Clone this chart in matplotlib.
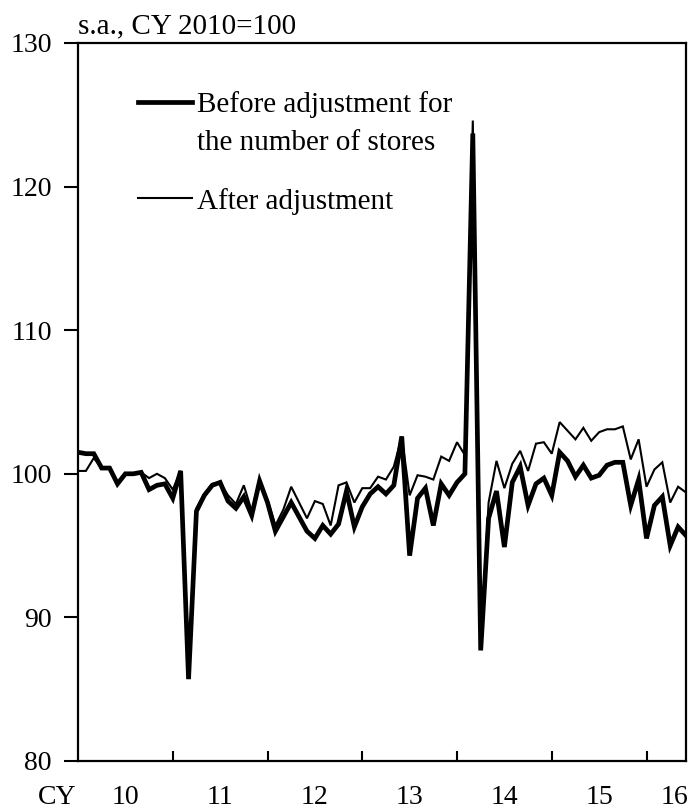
import matplotlib
matplotlib.use("Agg")
import matplotlib.pyplot as plt
import numpy as np

# Monthly data, Jan 2010 - Jun 2016 (s.a., CY2010=100)
before = [101.5, 101.4, 101.4, 100.4, 100.4, 99.3, 100.0, 100.0, 100.1, 98.9, 99.2, 99.3,
          98.3, 100.2, 85.7, 97.4, 98.5, 99.2, 99.4, 98.1, 97.6, 98.4, 97.1, 99.5,
          98.0, 96.0, 97.0, 98.0, 97.0, 96.0, 95.5, 96.4, 95.8, 96.5, 98.8, 96.3,
          97.7, 98.6, 99.1, 98.6, 99.2, 102.6, 94.3, 98.3, 99.0, 96.4, 99.3, 98.5,
          99.4, 100.0, 123.7, 87.7, 96.9, 98.8, 94.9, 99.4, 100.5, 97.8, 99.3, 99.7,
          98.5, 101.5, 100.9, 99.8, 100.6, 99.7, 99.9, 100.6, 100.8, 100.8, 97.8, 99.6,
          95.5, 97.8, 98.4, 95.0, 96.3, 95.7]
after = [100.2, 100.2, 101.1, 100.4, 100.4, 99.3, 100.0, 100.0, 100.1, 99.7, 100.0, 99.7,
         98.9, 100.2, 85.8, 97.6, 98.6, 99.3, 99.4, 98.5, 97.9, 99.2, 97.4, 99.4,
         98.2, 96.4, 97.5, 99.1, 98.0, 96.9, 98.1, 97.9, 96.4, 99.2, 99.4, 98.0,
         99.0, 99.0, 99.8, 99.6, 100.5, 102.6, 98.5, 99.9, 99.8, 99.6, 101.2, 100.9,
         102.2, 101.3, 124.6, 87.9, 98.0, 100.9, 99.0, 100.7, 101.6, 100.2, 102.1, 102.2,
         101.4, 103.6, 103.0, 102.4, 103.2, 102.3, 102.9, 103.1, 103.1, 103.3, 101.0, 102.4,
         99.1, 100.3, 100.8, 98.0, 99.1, 98.7]
year_labels = ["10", "11", "12", "13", "14", "15", "16"]
label_before = "Before adjustment for"
label_before2 = "the number of stores"
label_after = "After adjustment"
unit_text = "s.a., CY 2010=100"

plt.rcParams['font.family'] = ['Liberation Serif', 'DejaVu Serif']
FS = 21
TFS = 20

fig = plt.figure(figsize=(6.96, 8.10), dpi=100)
ax = fig.add_axes([78/696, 1-761/810, 608/696, 718/810])

x = np.arange(len(before))
ax.plot(x, after, color='black', lw=1.5, solid_joinstyle='miter', zorder=3)
ax.plot(x, before, color='black', lw=3.4, solid_joinstyle='miter', zorder=2)

ax.set_xlim(0, len(before) - 1)
ax.set_ylim(80, 130)
ax.set_yticks(np.arange(80, 131, 10))

# year boundary ticks (inward), labels at year centres
ax.set_xticks(np.arange(12, len(before), 12))
ax.set_xticklabels([])
ax.tick_params(axis='x', which='major', direction='in', length=7, width=1.5)
centres = [6 + 12 * k for k in range(6)] + [75.6]
ax.set_xticks(centres, minor=True)
ax.set_xticklabels(year_labels, minor=True, fontsize=TFS)
XPAD = 17
ax.tick_params(axis='x', which='minor', length=0, pad=XPAD)
ax.tick_params(axis='y', direction='out', length=10, width=1.5, pad=9, labelsize=TFS)

for s in ax.spines.values():
    s.set_linewidth(1.6)

ax.text(-0.0345, -(XPAD * 100 / 72) / 718, "CY", transform=ax.transAxes,
        ha='center', va='top', fontsize=TFS)
ax.text(0.0, 1.005, unit_text, transform=ax.transAxes, ha='left', va='bottom', fontsize=FS)

# legend drawn manually
ax.plot([0.0987, 0.1875], [0.918, 0.918], transform=ax.transAxes, color='black', lw=3.4)
ax.text(0.196, 0.918, label_before, transform=ax.transAxes, ha='left', va='center_baseline', fontsize=FS)
ax.text(0.196, 0.865, label_before2, transform=ax.transAxes, ha='left', va='center_baseline', fontsize=FS)
ax.plot([0.0987, 0.1875], [0.784, 0.784], transform=ax.transAxes, color='black', lw=1.5)
ax.text(0.196, 0.784, label_after, transform=ax.transAxes, ha='left', va='center_baseline', fontsize=FS)

fig.savefig("out.png", dpi=100)
